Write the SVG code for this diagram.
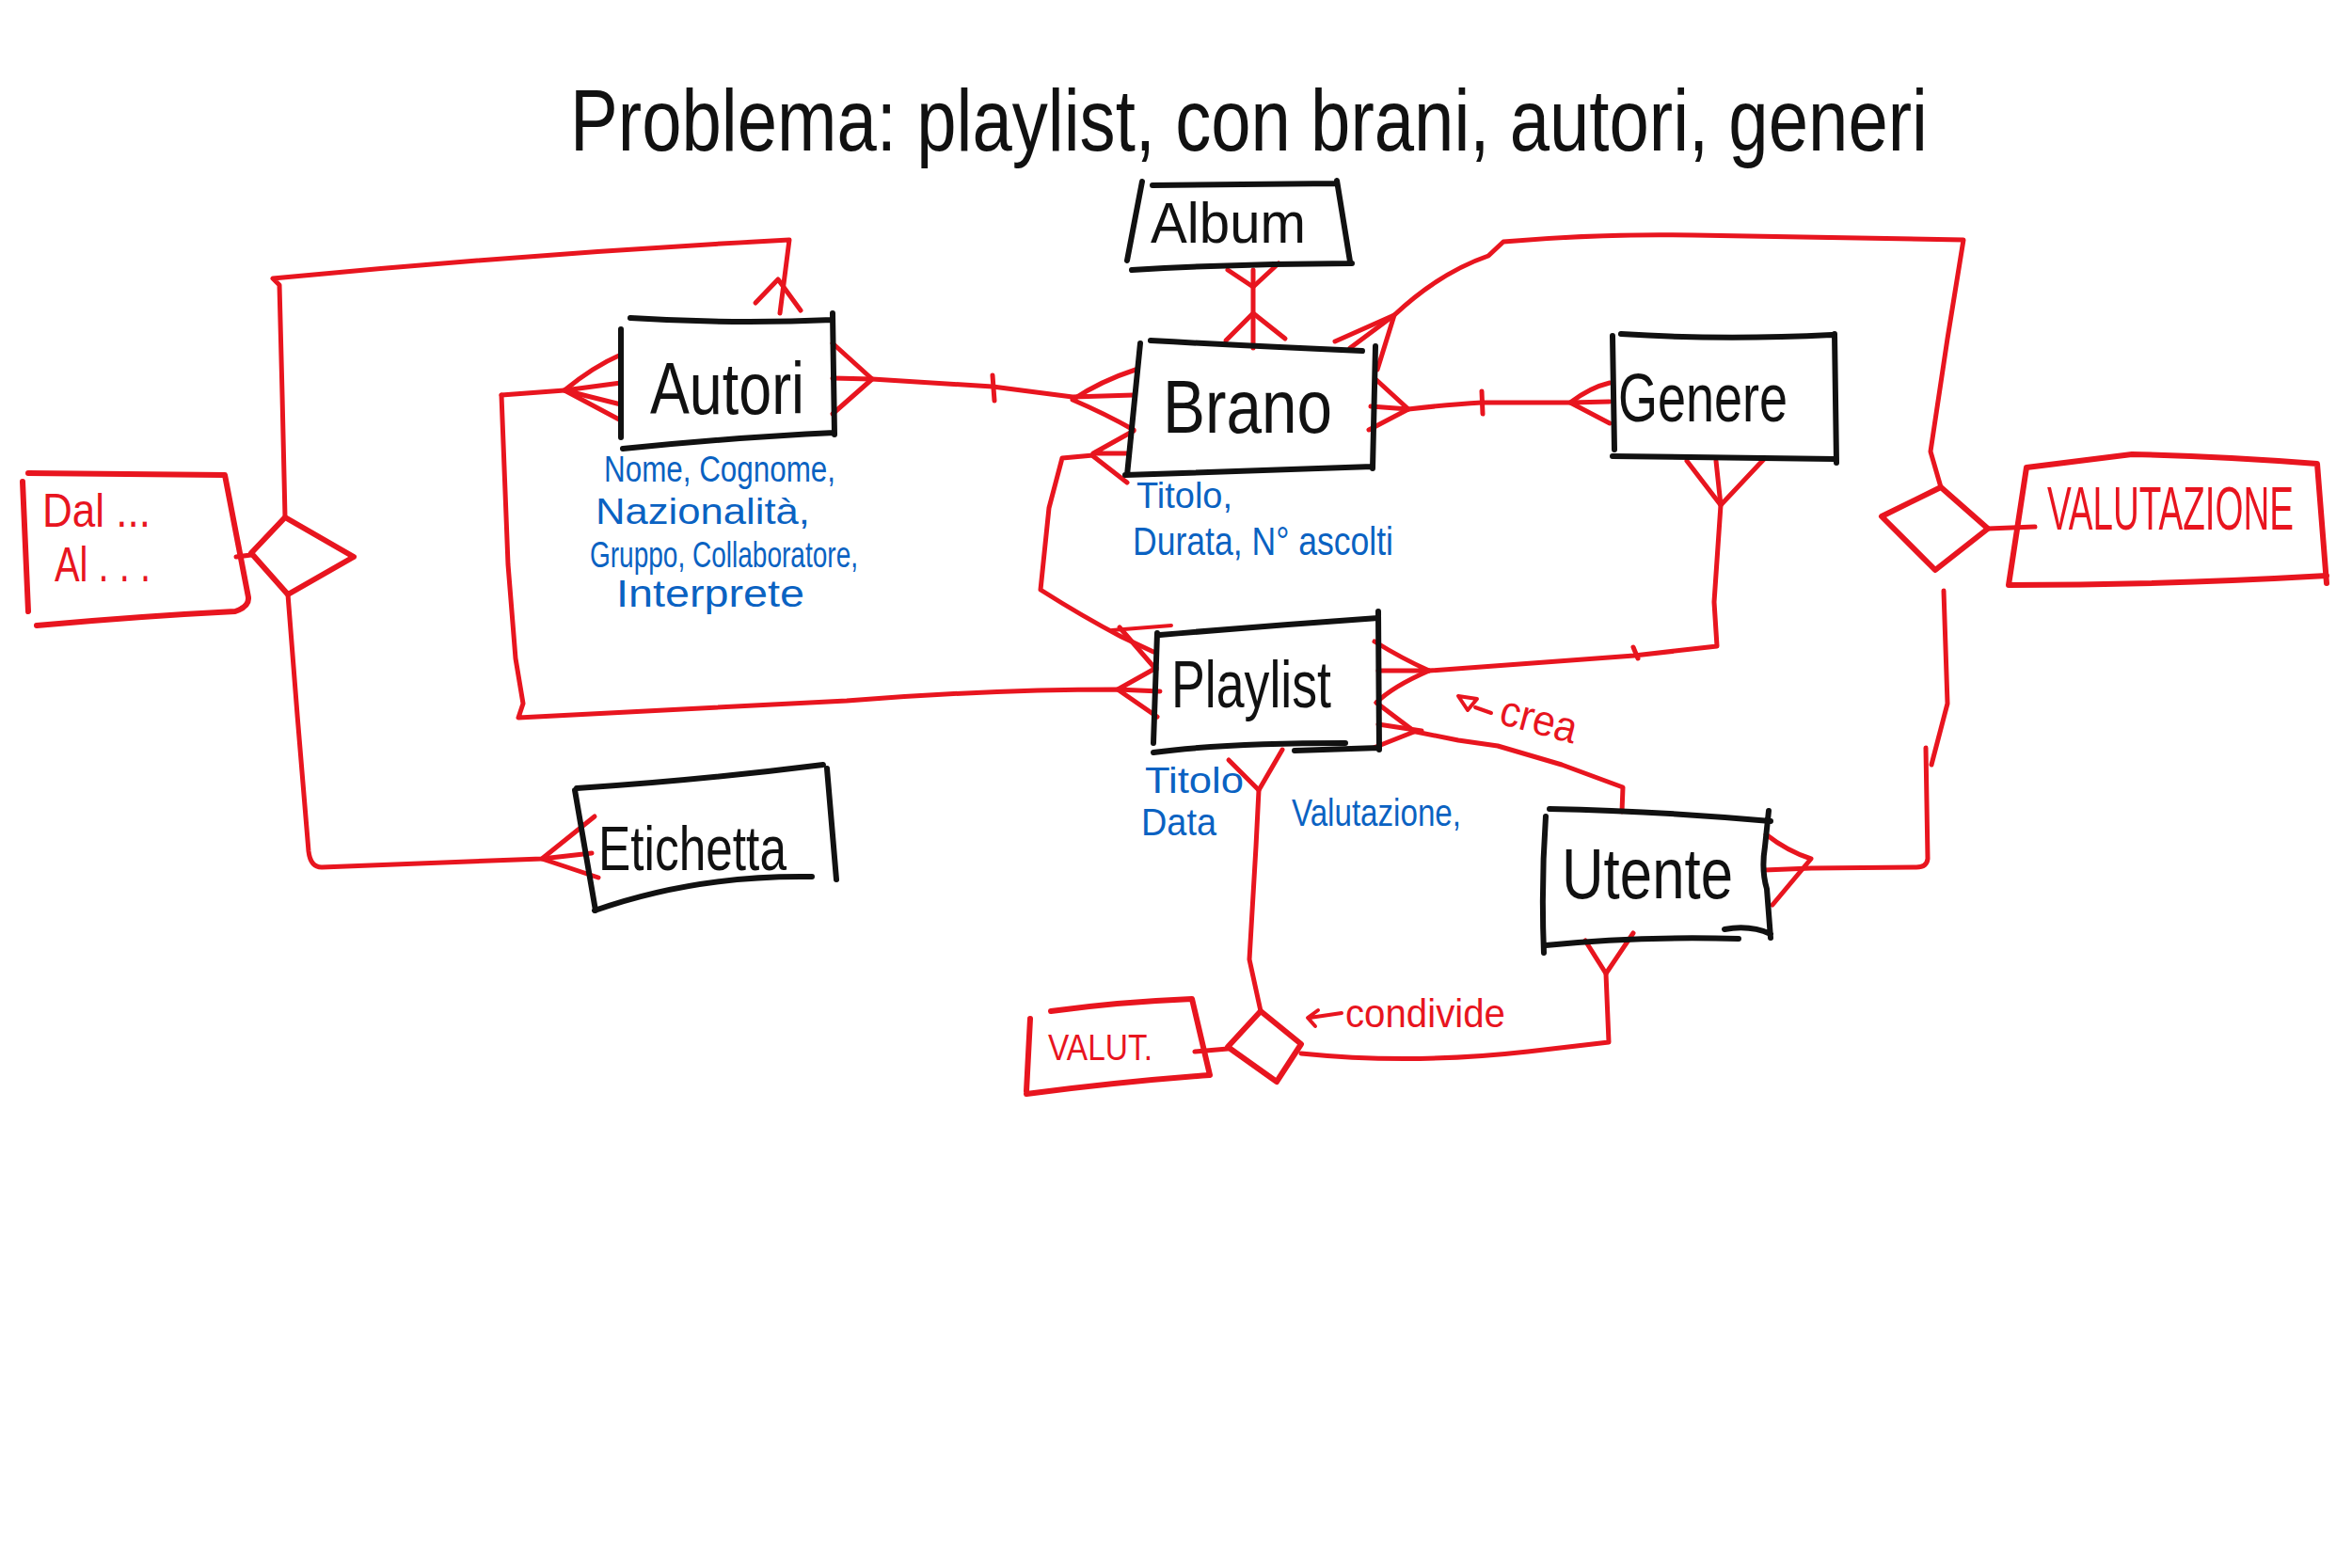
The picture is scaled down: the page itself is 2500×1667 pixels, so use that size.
<svg xmlns="http://www.w3.org/2000/svg" width="2500" height="1667" viewBox="0 0 2500 1667">
<style>
.bg{fill:#ffffff}
.box{fill:none;stroke:#111111;stroke-width:6;stroke-linecap:round;stroke-linejoin:round}
.rbox{fill:none;stroke:#E8151F;stroke-width:6;stroke-linecap:round;stroke-linejoin:round}
.red{fill:none;stroke:#E8151F;stroke-width:5;stroke-linecap:round;stroke-linejoin:round}
.thin{fill:none;stroke:#E8151F;stroke-width:4;stroke-linecap:round;stroke-linejoin:round}
text{font-family:"Liberation Sans","DejaVu Sans",sans-serif}
.title{fill:#111111;font-size:92px}
.lbl{fill:#111111}
.rl{fill:#E8151F}
.bl{fill:#0A62C2}
</style>
<rect class="bg" x="0" y="0" width="2500" height="1667"/>

<text id="title" class="title" x="606" y="160" textLength="1443" lengthAdjust="spacingAndGlyphs">Problema: playlist, con brani, autori, generi</text>

<g id="connectors">
  <!-- top-left loop: diamond to Autori top -->
  <path class="red" d="M303,550 L300,420 L297,303 L290,296 Q560,270 839,255 L829,333"/>
  <path class="red" d="M803,322 L827,297 L851,330"/>
  <!-- diamond to Dal box -->
  <path class="red" d="M267,590 L251,592"/>
  <!-- diamond to Etichetta -->
  <path class="red" d="M306,632 L316,760 L328,905 Q330,922 342,922 L576,913 L629,907"/>
  <path class="red" d="M632,868 L576,913 L636,933"/>
  <!-- Autori left to Playlist left -->
  <path class="red" d="M660,377 Q630,390 600,415 L660,447"/>
  <path class="red" d="M660,407 L600,415 L660,430"/>
  <path class="red" d="M533,420 L600,415"/>
  <path class="red" d="M533,420 L540,600 L548,700 L556,748 L551,763 Q700,755 900,745 Q1050,733 1188,733 L1233,735"/>
  <path class="red" d="M1229,710 L1188,733 L1230,762"/>
  <!-- Autori right to Brano left -->
  <path class="red" d="M885,365 L927,403 L885,440"/>
  <path class="red" d="M885,402 L927,403"/>
  <path class="red" d="M927,403 L1055,411 L1140,422 L1205,420"/>
  <path class="red" d="M1055,399 L1057,426"/>
  <path class="red" d="M1207,393 Q1170,405 1140,425 Q1175,440 1205,457"/>
  <!-- Album to Brano -->
  <path class="red" d="M1332,287 L1332,370"/>
  <path class="red" d="M1305,287 L1332,305 L1359,280"/>
  <path class="red" d="M1303,362 L1332,333 L1366,360"/>
  <!-- Brano to Genere -->
  <path class="red" d="M1462,403 L1497,435 L1455,457"/>
  <path class="red" d="M1457,432 L1497,435"/>
  <path class="red" d="M1497,435 Q1540,430 1575,428 L1669,428 L1711,427"/>
  <path class="red" d="M1575,416 L1576,440"/>
  <path class="red" d="M1711,407 Q1690,412 1669,428 L1711,450"/>
  <!-- Brano top-right to right diamond -->
  <path class="red" d="M1419,363 L1482,335 L1464,393"/>
  <path class="red" d="M1435,370 L1482,335"/>
  <path class="red" d="M1482,335 Q1530,290 1582,272 L1598,257 Q1700,248 1800,250 L2087,255 L2070,360 L2052,480 L2063,518"/>
  <!-- right diamond to VALUTAZIONE -->
  <path class="red" d="M2113,562 L2163,560"/>
  <!-- right diamond to Utente right -->
  <path class="red" d="M2066,628 L2070,748 L2053,813"/>
  <path class="red" d="M2047,795 L2049,913 Q2048,922 2037,922 L1925,923 L1875,925"/>
  <path class="red" d="M1877,887 Q1900,905 1925,913 L1884,962"/>
  <!-- Genere bottom to Playlist right -->
  <path class="red" d="M1793,490 L1829,537 L1876,487"/>
  <path class="red" d="M1824,490 L1829,537"/>
  <path class="red" d="M1829,537 L1822,640 L1825,687 L1737,697 L1519,713"/>
  <path class="red" d="M1736,688 L1741,700"/>
  <path class="red" d="M1461,682 Q1490,700 1519,713 L1465,713"/>
  <path class="red" d="M1519,713 Q1480,730 1463,747"/>
  <!-- Playlist right to Utente top (crea) -->
  <path class="red" d="M1463,747 Q1480,760 1500,775"/>
  <path class="red" d="M1465,770 L1511,777"/>
  <path class="red" d="M1460,795 L1503,778"/>
  <path class="red" d="M1500,777 L1550,787 L1592,793 L1660,813 L1725,837 L1724,863"/>
  <!-- Brano to Playlist -->
  <path class="red" d="M1205,458 L1162,482 L1200,482"/>
  <path class="red" d="M1198,513 L1162,485"/>
  <path class="red" d="M1162,484 L1129,487 L1115,540 L1106,627 Q1150,655 1192,677 L1226,693"/>
  <path class="red" d="M1190,667 L1229,712"/>
  <path class="thin" d="M1182,670 L1245,665"/>
  <!-- Playlist bottom to bottom diamond -->
  <path class="red" d="M1306,808 L1338,840 L1363,797"/>
  <path class="red" d="M1338,840 L1335,900 L1328,1020 L1340,1075"/>
  <!-- bottom diamond to VALUT. -->
  <path class="red" d="M1305,1115 L1270,1118"/>
  <!-- bottom diamond to Utente bottom -->
  <path class="red" d="M1383,1120 Q1500,1132 1624,1118 L1710,1108 L1707,1035"/>
  <path class="red" d="M1685,1000 L1707,1035 L1736,992"/>
</g>

<g id="diamond-left"><path class="rbox" d="M303,550 L376,592 L306,632 L267,588 Z"/></g>
<g id="diamond-right"><path class="rbox" d="M2063,518 L2113,562 L2057,606 L2000,549 Z"/></g>
<g id="diamond-bottom"><path class="rbox" d="M1340,1075 L1383,1110 L1357,1150 L1305,1113 Z"/></g>

<g id="album">
  <path class="box" d="M1225,197 L1421,195 M1214,193 L1198,277 M1421,192 L1435,278 M1203,287 Q1320,280 1437,280"/>
  <text class="lbl" x="1223" y="258" font-size="62" textLength="165" lengthAdjust="spacingAndGlyphs">Album</text>
</g>

<g id="brano">
  <path class="box" d="M1223,362 Q1330,368 1448,373 M1212,365 L1198,505 M1462,368 L1459,498 M1196,505 Q1330,500 1459,496"/>
  <text class="lbl" x="1236" y="460" font-size="80" textLength="180" lengthAdjust="spacingAndGlyphs">Brano</text>
  <text class="bl" x="1208" y="540" font-size="38" textLength="102" lengthAdjust="spacingAndGlyphs">Titolo,</text>
  <text class="bl" x="1204" y="590" font-size="42" textLength="277" lengthAdjust="spacingAndGlyphs">Durata, N° ascolti</text>
</g>

<g id="autori">
  <path class="box" d="M670,338 Q780,345 885,340 M660,350 L660,465 M885,333 L887,462 M662,477 Q780,465 887,460"/>
  <text class="lbl" x="691" y="440" font-size="78" textLength="164" lengthAdjust="spacingAndGlyphs">Autori</text>
  <text class="bl" x="642" y="512" font-size="38" textLength="246" lengthAdjust="spacingAndGlyphs">Nome, Cognome,</text>
  <text class="bl" x="633" y="557" font-size="38" textLength="228" lengthAdjust="spacingAndGlyphs">Nazionalità,</text>
  <text class="bl" x="627" y="603" font-size="38" textLength="285" lengthAdjust="spacingAndGlyphs">Gruppo, Collaboratore,</text>
  <text class="bl" x="655" y="645" font-size="40" textLength="200" lengthAdjust="spacingAndGlyphs">Interprete</text>
</g>

<g id="genere">
  <path class="box" d="M1723,355 Q1830,362 1947,356 M1714,357 L1716,478 M1950,355 L1952,492 M1714,485 L1950,488"/>
  <text class="lbl" x="1720" y="448" font-size="72" textLength="180" lengthAdjust="spacingAndGlyphs">Genere</text>
</g>

<g id="playlist">
  <path class="box" d="M1233,675 Q1350,665 1465,657 M1230,673 L1226,790 M1465,650 L1466,797 M1226,800 Q1300,790 1430,790 M1376,798 L1466,795"/>
  <text class="lbl" x="1245" y="752" font-size="70" textLength="170" lengthAdjust="spacingAndGlyphs">Playlist</text>
  <text class="bl" x="1217" y="843" font-size="38" textLength="105" lengthAdjust="spacingAndGlyphs">Titolo</text>
  <text class="bl" x="1213" y="888" font-size="40" textLength="80" lengthAdjust="spacingAndGlyphs">Data</text>
  <text class="bl" x="1373" y="878" font-size="40" textLength="180" lengthAdjust="spacingAndGlyphs">Valutazione,</text>
</g>

<g id="etichetta">
  <path class="box" d="M613,838 Q740,830 875,813 M611,840 L633,968 M879,817 L889,935 M632,968 Q740,930 863,932"/>
  <text class="lbl" x="636" y="925" font-size="66" textLength="200" lengthAdjust="spacingAndGlyphs">Etichetta</text>
</g>

<g id="utente">
  <path class="box" d="M1647,860 Q1760,862 1882,873 M1643,868 Q1638,940 1641,1013 M1880,862 L1876,900 Q1872,925 1878,945 L1882,997 M1643,1005 Q1740,995 1848,998 M1833,988 Q1860,983 1882,993"/>
  <text class="lbl" x="1660" y="955" font-size="76" textLength="182" lengthAdjust="spacingAndGlyphs">Utente</text>
</g>

<g id="valutazione">
  <path class="rbox" d="M2154,497 L2266,483 Q2360,485 2463,493 L2473,620 M2135,622 Q2300,622 2473,612 M2154,497 L2135,622"/>
  <text class="rl" transform="translate(2176 563) scale(1 1.6)" x="0" y="0" font-size="40" textLength="262" lengthAdjust="spacingAndGlyphs">VALUTAZIONE</text>
</g>

<g id="dal-al">
  <path class="rbox" d="M30,503 L239,505 L264,635 Q265,645 250,650 Q150,655 39,665 M24,512 L30,650"/>
  <text class="rl" x="45" y="560" font-size="50" textLength="115" lengthAdjust="spacingAndGlyphs">Dal ...</text>
  <text class="rl" x="58" y="618" font-size="52" textLength="102" lengthAdjust="spacingAndGlyphs">Al . . .</text>
</g>

<g id="valut">
  <path class="rbox" d="M1117,1075 Q1190,1065 1267,1062 L1286,1143 Q1190,1150 1091,1163 M1095,1083 L1091,1160"/>
  <text class="rl" x="1114" y="1127" font-size="38" textLength="111" lengthAdjust="spacingAndGlyphs">VALUT.</text>
</g>

<g id="label-crea">
  <path class="thin" d="M1550,740 L1570,743 L1560,755 Z M1568,752 L1585,758"/>
  <text class="rl" x="1593" y="780" font-size="46" textLength="83" lengthAdjust="spacingAndGlyphs" transform="rotate(15 1634 770)">crea</text>
</g>

<g id="label-condivide">
  <path class="thin" d="M1426,1077 L1392,1082 M1401,1074 L1390,1082 L1398,1091"/>
  <text class="rl" x="1430" y="1092" font-size="42" textLength="170" lengthAdjust="spacingAndGlyphs">condivide</text>
</g>
</svg>
